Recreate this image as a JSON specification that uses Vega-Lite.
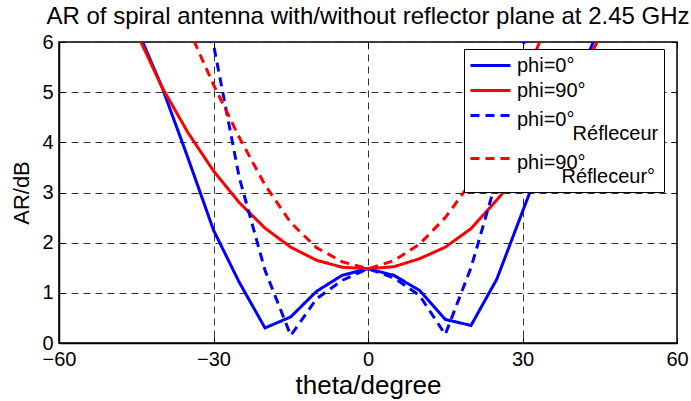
{
  "$schema": "https://vega.github.io/schema/vega-lite/v6.json",
  "autosize": {"type": "none"},
  "width": 618,
  "height": 301,
  "padding": {"left": 59, "top": 42, "right": 14, "bottom": 58},
  "background": "white",
  "config": {
    "font": "Liberation Sans",
    "view": {"stroke": "black", "strokeWidth": 1.5},
    "axis": {"labelColor": "black", "titleColor": "black", "labelFont": "Liberation Sans", "titleFont": "Liberation Sans", "titleFontWeight": "normal"}
  },
  "title": {
    "text": "AR of spiral antenna with/without reflector plane at 2.45 GHz",
    "fontSize": 24,
    "fontWeight": "normal",
    "font": "Liberation Sans",
    "color": "black",
    "anchor": "middle",
    "frame": "group",
    "baseline": "bottom",
    "offset": -44
  },
  "data": {
    "values": [
      {"theta": -45, "ar": 6.3, "s": "phi=0°"},
      {"theta": -40, "ar": 5.1, "s": "phi=0°"},
      {"theta": -35, "ar": 3.7, "s": "phi=0°"},
      {"theta": -30, "ar": 2.25, "s": "phi=0°"},
      {"theta": -25, "ar": 1.21, "s": "phi=0°"},
      {"theta": -20, "ar": 0.3, "s": "phi=0°"},
      {"theta": -15, "ar": 0.52, "s": "phi=0°"},
      {"theta": -10, "ar": 1.03, "s": "phi=0°"},
      {"theta": -5, "ar": 1.35, "s": "phi=0°"},
      {"theta": 0, "ar": 1.48, "s": "phi=0°"},
      {"theta": 5, "ar": 1.35, "s": "phi=0°"},
      {"theta": 10, "ar": 1.05, "s": "phi=0°"},
      {"theta": 15, "ar": 0.47, "s": "phi=0°"},
      {"theta": 20, "ar": 0.35, "s": "phi=0°"},
      {"theta": 25, "ar": 1.27, "s": "phi=0°"},
      {"theta": 30, "ar": 2.62, "s": "phi=0°"},
      {"theta": 35, "ar": 3.95, "s": "phi=0°"},
      {"theta": 40, "ar": 5.1, "s": "phi=0°"},
      {"theta": 45, "ar": 6.3, "s": "phi=0°"},

      {"theta": -45, "ar": 6.2, "s": "phi=90°"},
      {"theta": -40, "ar": 5.1, "s": "phi=90°"},
      {"theta": -35, "ar": 4.2, "s": "phi=90°"},
      {"theta": -30, "ar": 3.43, "s": "phi=90°"},
      {"theta": -25, "ar": 2.8, "s": "phi=90°"},
      {"theta": -20, "ar": 2.29, "s": "phi=90°"},
      {"theta": -15, "ar": 1.91, "s": "phi=90°"},
      {"theta": -10, "ar": 1.65, "s": "phi=90°"},
      {"theta": -5, "ar": 1.51, "s": "phi=90°"},
      {"theta": 0, "ar": 1.48, "s": "phi=90°"},
      {"theta": 5, "ar": 1.52, "s": "phi=90°"},
      {"theta": 10, "ar": 1.68, "s": "phi=90°"},
      {"theta": 15, "ar": 1.91, "s": "phi=90°"},
      {"theta": 20, "ar": 2.28, "s": "phi=90°"},
      {"theta": 25, "ar": 2.85, "s": "phi=90°"},
      {"theta": 30, "ar": 3.45, "s": "phi=90°"},
      {"theta": 35, "ar": 4.2, "s": "phi=90°"},
      {"theta": 40, "ar": 5.1, "s": "phi=90°"},
      {"theta": 45, "ar": 6.1, "s": "phi=90°"},

      {"theta": -35, "ar": 6.6, "s": "phi=0° Réfleceur"},
      {"theta": -30, "ar": 5.95, "s": "phi=0° Réfleceur"},
      {"theta": -25, "ar": 3.3, "s": "phi=0° Réfleceur"},
      {"theta": -20, "ar": 1.45, "s": "phi=0° Réfleceur"},
      {"theta": -15, "ar": 0.15, "s": "phi=0° Réfleceur"},
      {"theta": -10, "ar": 0.88, "s": "phi=0° Réfleceur"},
      {"theta": -5, "ar": 1.25, "s": "phi=0° Réfleceur"},
      {"theta": 0, "ar": 1.48, "s": "phi=0° Réfleceur"},
      {"theta": 5, "ar": 1.3, "s": "phi=0° Réfleceur"},
      {"theta": 10, "ar": 0.95, "s": "phi=0° Réfleceur"},
      {"theta": 15, "ar": 0.17, "s": "phi=0° Réfleceur"},
      {"theta": 20, "ar": 1.5, "s": "phi=0° Réfleceur"},
      {"theta": 25, "ar": 3.27, "s": "phi=0° Réfleceur"},
      {"theta": 30, "ar": 5.95, "s": "phi=0° Réfleceur"},
      {"theta": 35, "ar": 6.6, "s": "phi=0° Réfleceur"},

      {"theta": -35, "ar": 6.3, "s": "phi=90° Réfleceur°"},
      {"theta": -30, "ar": 5.15, "s": "phi=90° Réfleceur°"},
      {"theta": -25, "ar": 4.1, "s": "phi=90° Réfleceur°"},
      {"theta": -20, "ar": 3.15, "s": "phi=90° Réfleceur°"},
      {"theta": -15, "ar": 2.4, "s": "phi=90° Réfleceur°"},
      {"theta": -10, "ar": 1.9, "s": "phi=90° Réfleceur°"},
      {"theta": -5, "ar": 1.62, "s": "phi=90° Réfleceur°"},
      {"theta": 0, "ar": 1.48, "s": "phi=90° Réfleceur°"},
      {"theta": 5, "ar": 1.64, "s": "phi=90° Réfleceur°"},
      {"theta": 10, "ar": 1.97, "s": "phi=90° Réfleceur°"},
      {"theta": 15, "ar": 2.5, "s": "phi=90° Réfleceur°"},
      {"theta": 20, "ar": 3.2, "s": "phi=90° Réfleceur°"},
      {"theta": 25, "ar": 4.15, "s": "phi=90° Réfleceur°"},
      {"theta": 30, "ar": 5.2, "s": "phi=90° Réfleceur°"},
      {"theta": 35, "ar": 6.4, "s": "phi=90° Réfleceur°"}
    ]
  },
  "layer": [
    {
      "mark": {"type": "line", "strokeWidth": 3, "clip": true},
      "encoding": {
        "x": {
          "field": "theta", "type": "quantitative",
          "scale": {"domain": [-60, 60], "nice": false, "zero": false},
          "axis": {
            "title": "theta/degree", "titleFontSize": 26, "titlePadding": 3,
            "values": [-60, -30, 0, 30, 60], "labelFontSize": 20, "labelPadding": 12,
            "tickSize": -6, "tickColor": "black", "domainColor": "black", "domainWidth": 1.5,
            "grid": true, "gridColor": "#333", "gridDash": [7, 5], "gridWidth": 1, "gridOpacity": 1,
            "labelFlush": false, "labelOverlap": false
          }
        },
        "y": {
          "field": "ar", "type": "quantitative",
          "scale": {"domain": [0, 6], "nice": false, "zero": false},
          "axis": {
            "title": "AR/dB", "titleFontSize": 22, "titlePadding": 8,
            "values": [0, 1, 2, 3, 4, 5, 6], "labelFontSize": 20, "labelPadding": 12,
            "tickSize": -6, "tickColor": "black", "domainColor": "black", "domainWidth": 1.5,
            "grid": true, "gridColor": "#333", "gridDash": [7, 5], "gridWidth": 1, "gridOpacity": 1,
            "labelFlush": false, "labelOverlap": false
          }
        },
        "color": {
          "field": "s", "type": "nominal",
          "scale": {
            "domain": ["phi=0°", "phi=90°", "phi=0° Réfleceur", "phi=90° Réfleceur°"],
            "range": ["#0000ff", "#ff0000", "#0000ff", "#ff0000"]
          },
          "legend": {
            "title": null,
            "orient": "none", "legendX": 405, "legendY": 7,
            "strokeColor": "black", "fillColor": "white", "padding": 5,
            "symbolType": "M -1 0 H 3", "symbolSize": 400, "symbolStrokeWidth": 3,
            "labelFontSize": 20, "labelFont": "Liberation Sans", "labelColor": "black",
            "labelLimit": 300, "rowPadding": 3, "labelOffset": 25,
            "labelExpr": "datum.label == 'phi=0° Réfleceur' ? ['phi=0°', '\u200b\u00a0\u00a0\u00a0\u00a0\u00a0\u00a0\u00a0\u00a0\u00a0\u00a0Réfleceur'] : datum.label == 'phi=90° Réfleceur°' ? ['phi=90°', '\u200b\u00a0\u00a0\u00a0\u00a0\u00a0\u00a0\u00a0\u00a0Réfleceur°'] : datum.label",
            "encode": {
              "labels": {
                "update": {
                  "lineHeight": {"value": 14},
                  "dy": {"signal": "indexof(datum.value, 'R') > 0 ? 4 : 0"}
                }
              }
            }
          }
        },
        "strokeDash": {
          "field": "s", "type": "nominal",
          "scale": {
            "domain": ["phi=0°", "phi=90°", "phi=0° Réfleceur", "phi=90° Réfleceur°"],
            "range": [[1, 0], [1, 0], [9, 6], [9, 6]]
          },
          "legend": null
        }
      }
    },
    {
      "mark": {"type": "point", "opacity": 0},
      "encoding": {
        "x": {
          "field": "theta", "type": "quantitative",
          "axis": {"orient": "top", "values": [-60, -30, 0, 30, 60], "labels": false, "title": null, "grid": false, "domain": false, "tickSize": -6, "tickColor": "black"}
        },
        "y": {
          "field": "ar", "type": "quantitative",
          "axis": {"orient": "right", "values": [0, 1, 2, 3, 4, 5, 6], "labels": false, "title": null, "grid": false, "domain": false, "tickSize": -6, "tickColor": "black"}
        }
      }
    }
  ],
  "resolve": {"axis": {"x": "independent", "y": "independent"}}
}
